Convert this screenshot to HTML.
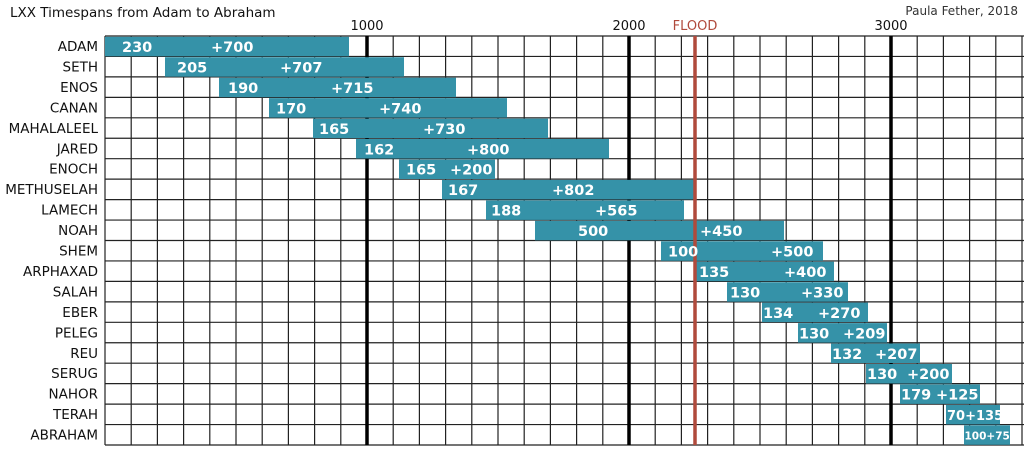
<!DOCTYPE html>
<html><head><meta charset="utf-8"><style>
html,body{margin:0;padding:0;background:#fff;}
svg{display:block;}
text{font-family:"DejaVu Sans","Liberation Sans",sans-serif;}
.n{font-size:13.5px;fill:#111;text-anchor:end;}
.b{font-size:14.5px;font-weight:bold;fill:#fff;}
</style></head><body>
<svg width="1024" height="455" viewBox="0 0 1024 455" xmlns="http://www.w3.org/2000/svg">
<rect width="1024" height="455" fill="#fff"/>
<text x="10" y="17" style="font-size:13.5px;fill:#111">LXX Timespans from Adam to Abraham</text>
<text x="1018" y="15" style="font-size:12px;fill:#333;text-anchor:end">Paula Fether, 2018</text>
<text x="367" y="30" style="font-size:13px;fill:#111;text-anchor:middle">1000</text>
<text x="629" y="30" style="font-size:13px;fill:#111;text-anchor:middle">2000</text>
<text x="891" y="30" style="font-size:13px;fill:#111;text-anchor:middle">3000</text>
<text x="695" y="30" style="font-size:13px;fill:#b04a3c;text-anchor:middle">FLOOD</text>
<g stroke="#222" stroke-width="1.2">
<line x1="105" y1="36" x2="1024" y2="36"/><line x1="105" y1="56.45" x2="1024" y2="56.45"/><line x1="105" y1="76.9" x2="1024" y2="76.9"/><line x1="105" y1="97.35" x2="1024" y2="97.35"/><line x1="105" y1="117.8" x2="1024" y2="117.8"/><line x1="105" y1="138.25" x2="1024" y2="138.25"/><line x1="105" y1="158.7" x2="1024" y2="158.7"/><line x1="105" y1="179.15" x2="1024" y2="179.15"/><line x1="105" y1="199.6" x2="1024" y2="199.6"/><line x1="105" y1="220.05" x2="1024" y2="220.05"/><line x1="105" y1="240.5" x2="1024" y2="240.5"/><line x1="105" y1="260.95" x2="1024" y2="260.95"/><line x1="105" y1="281.4" x2="1024" y2="281.4"/><line x1="105" y1="301.85" x2="1024" y2="301.85"/><line x1="105" y1="322.3" x2="1024" y2="322.3"/><line x1="105" y1="342.75" x2="1024" y2="342.75"/><line x1="105" y1="363.2" x2="1024" y2="363.2"/><line x1="105" y1="383.65" x2="1024" y2="383.65"/><line x1="105" y1="404.1" x2="1024" y2="404.1"/><line x1="105" y1="424.55" x2="1024" y2="424.55"/><line x1="105" y1="445" x2="1024" y2="445"/>
<line x1="105" y1="36" x2="105" y2="445"/><line x1="131.2" y1="36" x2="131.2" y2="445"/><line x1="157.4" y1="36" x2="157.4" y2="445"/><line x1="183.6" y1="36" x2="183.6" y2="445"/><line x1="209.8" y1="36" x2="209.8" y2="445"/><line x1="236" y1="36" x2="236" y2="445"/><line x1="262.2" y1="36" x2="262.2" y2="445"/><line x1="288.4" y1="36" x2="288.4" y2="445"/><line x1="314.6" y1="36" x2="314.6" y2="445"/><line x1="340.8" y1="36" x2="340.8" y2="445"/>
<line x1="393.2" y1="36" x2="393.2" y2="445"/><line x1="419.4" y1="36" x2="419.4" y2="445"/><line x1="445.6" y1="36" x2="445.6" y2="445"/><line x1="471.8" y1="36" x2="471.8" y2="445"/><line x1="498" y1="36" x2="498" y2="445"/><line x1="524.2" y1="36" x2="524.2" y2="445"/><line x1="550.4" y1="36" x2="550.4" y2="445"/><line x1="576.6" y1="36" x2="576.6" y2="445"/><line x1="602.8" y1="36" x2="602.8" y2="445"/>
<line x1="655.2" y1="36" x2="655.2" y2="445"/><line x1="681.4" y1="36" x2="681.4" y2="445"/><line x1="707.6" y1="36" x2="707.6" y2="445"/><line x1="733.8" y1="36" x2="733.8" y2="445"/><line x1="760" y1="36" x2="760" y2="445"/><line x1="786.2" y1="36" x2="786.2" y2="445"/><line x1="812.4" y1="36" x2="812.4" y2="445"/><line x1="838.6" y1="36" x2="838.6" y2="445"/><line x1="864.8" y1="36" x2="864.8" y2="445"/>
<line x1="917.2" y1="36" x2="917.2" y2="445"/><line x1="943.4" y1="36" x2="943.4" y2="445"/><line x1="969.6" y1="36" x2="969.6" y2="445"/><line x1="995.8" y1="36" x2="995.8" y2="445"/><line x1="1022" y1="36" x2="1022" y2="445"/>
</g>
<g stroke="#000" stroke-width="3.5">
<line x1="367" y1="36" x2="367" y2="445"/><line x1="629" y1="36" x2="629" y2="445"/><line x1="891" y1="36" x2="891" y2="445"/>
</g>
<g fill="#3592a8">
<rect x="105" y="36.8" width="244" height="19.5"/>
<rect x="165" y="57.2" width="239" height="19.5"/>
<rect x="219" y="77.7" width="237" height="19.5"/>
<rect x="269" y="98.1" width="238" height="19.5"/>
<rect x="313" y="118.6" width="235" height="19.5"/>
<rect x="356" y="139" width="253" height="19.5"/>
<rect x="399" y="159.5" width="96" height="19.5"/>
<rect x="442" y="179.9" width="254" height="19.5"/>
<rect x="486" y="200.4" width="198" height="19.5"/>
<rect x="535" y="220.8" width="249" height="19.5"/>
<rect x="661" y="241.3" width="162" height="19.5"/>
<rect x="696" y="261.7" width="138" height="19.5"/>
<rect x="727" y="282.2" width="121" height="19.5"/>
<rect x="762" y="302.6" width="106" height="19.5"/>
<rect x="798" y="323.1" width="89" height="19.5"/>
<rect x="831" y="343.5" width="89" height="19.5"/>
<rect x="866" y="364" width="86" height="19.5"/>
<rect x="900" y="384.4" width="80" height="19.5"/>
<rect x="946" y="404.9" width="54" height="19.5"/>
<rect x="964" y="425.3" width="46" height="19.5"/>
</g>
<line x1="695" y1="36" x2="695" y2="445" stroke="#b04a3c" stroke-width="3.5"/>
<g>
<text class="n" x="98" y="51">ADAM</text>
<text class="n" x="98" y="71.5">SETH</text>
<text class="n" x="98" y="92">ENOS</text>
<text class="n" x="98" y="112.4">CANAN</text>
<text class="n" x="98" y="132.8">MAHALALEEL</text>
<text class="n" x="98" y="153.3">JARED</text>
<text class="n" x="98" y="173.7">ENOCH</text>
<text class="n" x="98" y="194.2">METHUSELAH</text>
<text class="n" x="98" y="214.6">LAMECH</text>
<text class="n" x="98" y="235.1">NOAH</text>
<text class="n" x="98" y="255.5">SHEM</text>
<text class="n" x="98" y="276">ARPHAXAD</text>
<text class="n" x="98" y="296.4">SALAH</text>
<text class="n" x="98" y="316.9">EBER</text>
<text class="n" x="98" y="337.3">PELEG</text>
<text class="n" x="98" y="357.8">REU</text>
<text class="n" x="98" y="378.2">SERUG</text>
<text class="n" x="98" y="398.7">NAHOR</text>
<text class="n" x="98" y="419.1">TERAH</text>
<text class="n" x="98" y="439.6">ABRAHAM</text>
</g>
<g>
<text class="b" x="122" y="52">230</text><text class="b" x="211" y="52">+700</text>
<text class="b" x="177" y="72.5">205</text><text class="b" x="280" y="72.5">+707</text>
<text class="b" x="228" y="93">190</text><text class="b" x="331" y="93">+715</text>
<text class="b" x="276" y="113.4">170</text><text class="b" x="379" y="113.4">+740</text>
<text class="b" x="319" y="133.8">165</text><text class="b" x="423" y="133.8">+730</text>
<text class="b" x="364" y="154.3">162</text><text class="b" x="467" y="154.3">+800</text>
<text class="b" x="406" y="174.7">165</text><text class="b" x="450" y="174.7">+200</text>
<text class="b" x="448" y="195.2">167</text><text class="b" x="552" y="195.2">+802</text>
<text class="b" x="491" y="215.6">188</text><text class="b" x="595" y="215.6">+565</text>
<text class="b" x="578" y="236.1">500</text><text class="b" x="700" y="236.1">+450</text>
<text class="b" x="668" y="256.5">100</text><text class="b" x="771" y="256.5">+500</text>
<text class="b" x="699" y="277">135</text><text class="b" x="784" y="277">+400</text>
<text class="b" x="730" y="297.4">130</text><text class="b" x="801" y="297.4">+330</text>
<text class="b" x="763" y="317.9">134</text><text class="b" x="818" y="317.9">+270</text>
<text class="b" x="799" y="338.3">130</text><text class="b" x="843" y="338.3">+209</text>
<text class="b" x="832" y="358.8">132</text><text class="b" x="875" y="358.8">+207</text>
<text class="b" x="867" y="379.2">130</text><text class="b" x="907" y="379.2">+200</text>
<text class="b" x="901" y="399.7">179</text><text class="b" x="936" y="399.7">+125</text>
<text class="b" x="947" y="420.1" style="font-size:13px">70+135</text>
<text class="b" x="964.5" y="439.6" style="font-size:10.5px">100+75</text>
</g>
</svg>
</body></html>
